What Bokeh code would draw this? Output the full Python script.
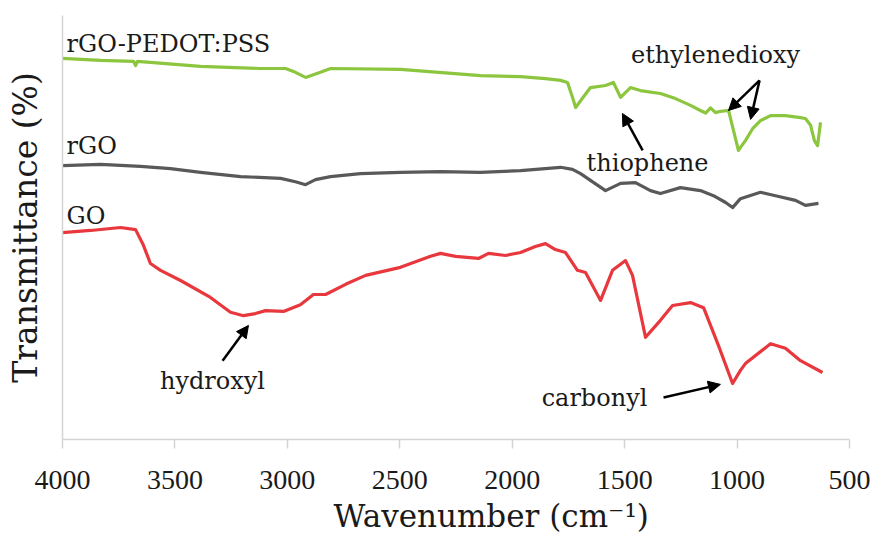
import math
from bokeh.plotting import figure
from bokeh.models import Range1d, FixedTicker, Label, Arrow, NormalHead, Title
from bokeh.embed import file_html
from bokeh.resources import INLINE

# ---- data ----
x_ticks = [4000, 3500, 3000, 2500, 2000, 1500, 1000, 500]

pedot_wn = [4000, 3831, 3684, 3675, 3666, 3386, 3119, 3008, 2964, 2919, 2853, 2808,
            2497, 2141, 1963, 1852, 1785, 1754, 1732, 1718, 1696, 1652, 1585, 1550,
            1518, 1474, 1430, 1341, 1274, 1207, 1163, 1140, 1118, 1096, 1074, 1038,
            1016, 994, 963, 931, 896, 851, 785, 718, 696, 673, 656, 642, 629]
pedot_t = [89.9, 89.4, 89.2, 88.2, 89.2, 88.0, 87.5, 87.5, 86.6, 85.4, 86.6, 87.5,
           87.3, 85.8, 85.6, 85.1, 84.7, 84.2, 80.7, 78.3, 79.9, 83.0, 83.5, 84.2,
           80.7, 83.0, 82.3, 81.6, 80.4, 78.8, 77.6, 77.0, 78.2, 77.1, 77.4, 77.6,
           72.9, 68.2, 70.5, 73.3, 75.2, 76.4, 76.4, 75.9, 75.7, 74.1, 70.5, 69.3, 74.8]

rgo_wn = [4000, 3831, 3653, 3520, 3386, 3208, 3030, 2964, 2919, 2875, 2808, 2675,
          2497, 2319, 2141, 1963, 1785, 1732, 1696, 1652, 1585, 1518, 1452, 1385,
          1341, 1252, 1163, 1105, 1051, 1020, 985, 896, 829, 740, 696, 638]
rgo_t = [64.6, 64.9, 64.4, 63.9, 63.0, 62.0, 61.6, 60.8, 60.1, 61.3, 62.0, 62.7,
         63.0, 63.2, 63.0, 63.4, 64.2, 63.7, 62.7, 61.1, 58.7, 60.4, 60.6, 58.7,
         58.0, 59.4, 58.7, 57.5, 55.9, 54.7, 56.8, 58.3, 57.5, 56.4, 55.2, 55.7]

go_wn = [4000, 3875, 3742, 3675, 3640, 3609, 3564, 3475, 3342, 3253, 3195, 3142,
         3097, 3017, 2942, 2884, 2830, 2741, 2652, 2497, 2363, 2319, 2252, 2150,
         2105, 2030, 1963, 1897, 1852, 1808, 1763, 1710, 1674, 1607, 1554, 1496,
         1465, 1407, 1341, 1287, 1207, 1149, 1083, 1020, 985, 963, 851, 785, 718, 620]
go_t = [48.8, 49.3, 50.0, 49.5, 45.8, 41.5, 39.9, 37.5, 33.5, 30.0, 29.2, 29.7,
        30.4, 30.2, 31.8, 34.2, 34.2, 36.6, 38.7, 40.6, 43.2, 43.9, 43.2, 42.7,
        43.9, 43.4, 44.1, 45.5, 46.2, 44.8, 44.1, 39.9, 39.4, 32.8, 39.9, 42.2,
        38.7, 24.1, 28.1, 31.6, 32.3, 31.1, 22.2, 13.2, 16.3, 17.9, 22.6, 21.5, 18.6, 15.8]

series_names = ["rGO-PEDOT:PSS", "rGO", "GO"]
series_colors = ["#8cc63e", "#595959", "#e8383d"]

SERIF = "DejaVu Serif"
TICKFONT = "Liberation Serif"

p = figure(width=877, height=537, output_backend="svg", toolbar_location=None,
           x_range=Range1d(4000, 500), y_range=Range1d(0, 100),
           min_border_left=62, min_border_right=28, min_border_top=15,
           min_border_bottom=98)
p.xgrid.visible = False
p.ygrid.visible = False
p.outline_line_color = None
p.background_fill_color = "white"
p.border_fill_color = "white"

# x axis
p.xaxis.ticker = FixedTicker(ticks=x_ticks)
p.xaxis.axis_line_color = "#d4d4d4"
p.xaxis.axis_line_width = 1.5
p.xaxis.major_tick_line_color = "#d4d4d4"
p.xaxis.major_tick_line_width = 1.5
p.xaxis.major_tick_out = 9
p.xaxis.major_tick_in = 0
p.xaxis.minor_tick_line_color = None
p.xaxis.major_label_text_font = TICKFONT
p.xaxis.major_label_text_font_size = "28px"
p.xaxis.major_label_text_color = "#1a1a1a"
p.xaxis.major_label_standoff = 22

# y axis: line only, with its title
p.yaxis.ticker = FixedTicker(ticks=[])
p.yaxis.axis_line_color = "#d4d4d4"
p.yaxis.axis_line_width = 1.5
p.yaxis.major_tick_line_color = None
p.yaxis.minor_tick_line_color = None
p.yaxis.major_label_text_font_size = "0px"
p.yaxis.major_tick_out = 0
p.yaxis.major_tick_in = 0
p.yaxis.axis_label = "Transmittance (%)"
p.yaxis.axis_label_text_font = SERIF
p.yaxis.axis_label_text_font_size = "33px"
p.yaxis.axis_label_text_font_style = "normal"
p.yaxis.axis_label_text_color = "#1a1a1a"
p.yaxis.axis_label_standoff = 18

# x axis title (offset to the right, as in the reference)
p.add_layout(Title(text="Wavenumber (cm\u207b\u00b9)", text_font=SERIF,
                   text_font_size="31px", text_font_style="normal",
                   text_color="#1a1a1a", align="left", offset=271, standoff=8),
             "below")

for wn, t, c in zip([pedot_wn, rgo_wn, go_wn], [pedot_t, rgo_t, go_t], series_colors):
    p.line(wn, t, line_color=c, line_width=3.2, line_join="round")

def lab(x, y, text, size, align="left", baseline="middle"):
    p.add_layout(Label(x=x, y=y, text=text, text_font=SERIF, text_font_size=size,
                       text_color="#1a1a1a", text_align=align,
                       text_baseline=baseline))

# series names
lab(3982, 93.2, series_names[0], "24px")
lab(3982, 69.3, series_names[1], "24px")
lab(3982, 52.6, series_names[2], "24px")

# peak annotations
lab(1096, 90.6, "ethylenedioxy", "24px", align="center")
lab(1398, 65.1, "thiophene", "24px", align="center")
lab(3333, 13.9, "hydroxyl", "24px", align="center")
lab(1634, 9.7, "carbonyl", "24px", align="center")

def arrow(x0, y0, x1, y1):
    p.add_layout(Arrow(end=NormalHead(size=12, fill_color="black", line_color="black"),
                       x_start=x0, y_start=y0, x_end=x1, y_end=y1,
                       line_color="black", line_width=2.5))

arrow(900, 84.7, 1038, 77.6)
arrow(900, 84.7, 940, 75.5)
arrow(1420, 68.2, 1510, 76.9)
arrow(3288, 18.6, 3173, 26.9)
arrow(1327, 9.9, 1074, 13.0)

open("out.html", "w").write(file_html(p, INLINE))
